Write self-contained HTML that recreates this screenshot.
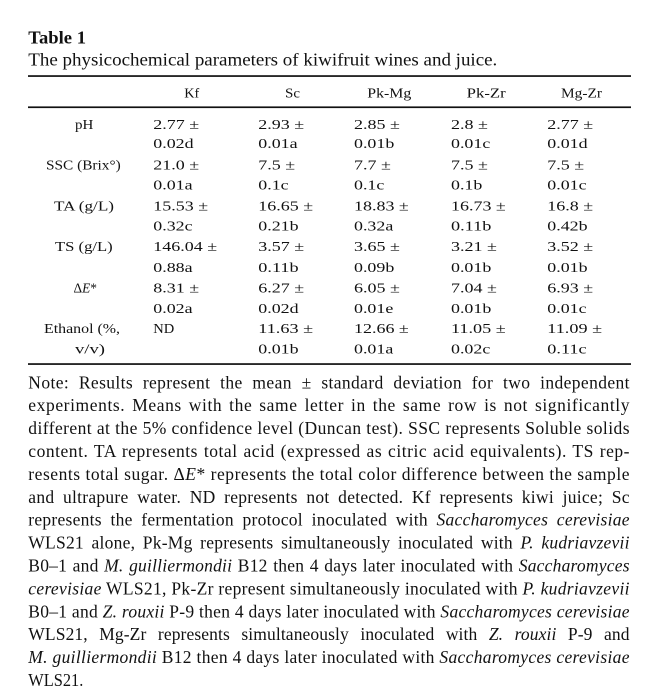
<!DOCTYPE html>
<html><head><meta charset="utf-8"><style>
html,body{margin:0;padding:0;background:#fff;}
svg{display:block;}
text{font-family:"Liberation Serif",serif;fill:#111;}
.t{font-size:13.5px;}
.n{font-size:17.5px;}
.i{font-style:italic;}
</style></head><body>
<svg width="670" height="698" viewBox="0 0 670 698" xmlns="http://www.w3.org/2000/svg">
<rect width="670" height="698" fill="#fff"/>
<text x="28.3" y="43.3" font-size="17.5" font-weight="bold" textLength="57.7" lengthAdjust="spacingAndGlyphs">Table 1</text>
<text class="n" x="28.3" y="65.7" textLength="469" lengthAdjust="spacingAndGlyphs">The physicochemical parameters of kiwifruit wines and juice.</text>
<rect x="28" y="75.2" width="603" height="1.7" fill="#111"/>
<rect x="28" y="106.4" width="603" height="1.7" fill="#111"/>
<rect x="28" y="363.2" width="603" height="1.7" fill="#111"/>
<!-- header -->
<g class="t">
<text x="184.3" y="97.3" textLength="15" lengthAdjust="spacingAndGlyphs">Kf</text>
<text x="285" y="97.3" textLength="15" lengthAdjust="spacingAndGlyphs">Sc</text>
<text x="367.3" y="97.3" textLength="44" lengthAdjust="spacingAndGlyphs">Pk-Mg</text>
<text x="466.7" y="97.3" textLength="39" lengthAdjust="spacingAndGlyphs">Pk-Zr</text>
<text x="561" y="97.3" textLength="41" lengthAdjust="spacingAndGlyphs">Mg-Zr</text>
<!-- labels -->
<text x="75" y="128.8" textLength="18.3" lengthAdjust="spacingAndGlyphs">pH</text>
<text x="46" y="169.3" textLength="74.7" lengthAdjust="spacingAndGlyphs">SSC (Brix°)</text>
<text x="54" y="210.3" textLength="60" lengthAdjust="spacingAndGlyphs">TA (g/L)</text>
<text x="55" y="251.2" textLength="57.7" lengthAdjust="spacingAndGlyphs">TS (g/L)</text>
<text x="73.5" y="292.3" font-size="14" textLength="23.5" lengthAdjust="spacingAndGlyphs">Δ<tspan class="i">E</tspan>*</text>
<text x="44" y="333" textLength="76" lengthAdjust="spacingAndGlyphs">Ethanol (%,</text>
<text x="75" y="353.3" textLength="30" lengthAdjust="spacingAndGlyphs">v/v)</text>
<!-- col 1 -->
<text x="153.3" y="128.8" textLength="45.9" lengthAdjust="spacingAndGlyphs">2.77 ±</text>
<text x="153.3" y="148" textLength="40.3" lengthAdjust="spacingAndGlyphs">0.02d</text>
<text x="153.3" y="169.3" textLength="45.9" lengthAdjust="spacingAndGlyphs">21.0 ±</text>
<text x="153.3" y="189.3" textLength="39.3" lengthAdjust="spacingAndGlyphs">0.01a</text>
<text x="153.3" y="210.3" textLength="54.8" lengthAdjust="spacingAndGlyphs">15.53 ±</text>
<text x="153.3" y="230.3" textLength="39.3" lengthAdjust="spacingAndGlyphs">0.32c</text>
<text x="153.3" y="251.2" textLength="63.8" lengthAdjust="spacingAndGlyphs">146.04 ±</text>
<text x="153.3" y="272" textLength="39.3" lengthAdjust="spacingAndGlyphs">0.88a</text>
<text x="153.3" y="292.3" textLength="45.9" lengthAdjust="spacingAndGlyphs">8.31 ±</text>
<text x="153.3" y="313" textLength="39.3" lengthAdjust="spacingAndGlyphs">0.02a</text>
<text x="153.3" y="333" textLength="21" lengthAdjust="spacingAndGlyphs">ND</text>
<!-- col 2 -->
<text x="258.3" y="128.8" textLength="45.9" lengthAdjust="spacingAndGlyphs">2.93 ±</text>
<text x="258.3" y="148" textLength="39.3" lengthAdjust="spacingAndGlyphs">0.01a</text>
<text x="258.3" y="169.3" textLength="36.9" lengthAdjust="spacingAndGlyphs">7.5 ±</text>
<text x="258.3" y="189.3" textLength="30.3" lengthAdjust="spacingAndGlyphs">0.1c</text>
<text x="258.3" y="210.3" textLength="54.8" lengthAdjust="spacingAndGlyphs">16.65 ±</text>
<text x="258.3" y="230.3" textLength="40.3" lengthAdjust="spacingAndGlyphs">0.21b</text>
<text x="258.3" y="251.2" textLength="45.9" lengthAdjust="spacingAndGlyphs">3.57 ±</text>
<text x="258.3" y="272" textLength="40.3" lengthAdjust="spacingAndGlyphs">0.11b</text>
<text x="258.3" y="292.3" textLength="45.9" lengthAdjust="spacingAndGlyphs">6.27 ±</text>
<text x="258.3" y="313" textLength="40.3" lengthAdjust="spacingAndGlyphs">0.02d</text>
<text x="258.3" y="333" textLength="54.8" lengthAdjust="spacingAndGlyphs">11.63 ±</text>
<text x="258.3" y="353.3" textLength="40.3" lengthAdjust="spacingAndGlyphs">0.01b</text>
<!-- col 3 -->
<text x="354" y="128.8" textLength="45.9" lengthAdjust="spacingAndGlyphs">2.85 ±</text>
<text x="354" y="148" textLength="40.3" lengthAdjust="spacingAndGlyphs">0.01b</text>
<text x="354" y="169.3" textLength="36.9" lengthAdjust="spacingAndGlyphs">7.7 ±</text>
<text x="354" y="189.3" textLength="30.3" lengthAdjust="spacingAndGlyphs">0.1c</text>
<text x="354" y="210.3" textLength="54.8" lengthAdjust="spacingAndGlyphs">18.83 ±</text>
<text x="354" y="230.3" textLength="39.3" lengthAdjust="spacingAndGlyphs">0.32a</text>
<text x="354" y="251.2" textLength="45.9" lengthAdjust="spacingAndGlyphs">3.65 ±</text>
<text x="354" y="272" textLength="40.3" lengthAdjust="spacingAndGlyphs">0.09b</text>
<text x="354" y="292.3" textLength="45.9" lengthAdjust="spacingAndGlyphs">6.05 ±</text>
<text x="354" y="313" textLength="39.3" lengthAdjust="spacingAndGlyphs">0.01e</text>
<text x="354" y="333" textLength="54.8" lengthAdjust="spacingAndGlyphs">12.66 ±</text>
<text x="354" y="353.3" textLength="39.3" lengthAdjust="spacingAndGlyphs">0.01a</text>
<!-- col 4 -->
<text x="451" y="128.8" textLength="36.9" lengthAdjust="spacingAndGlyphs">2.8 ±</text>
<text x="451" y="148" textLength="39.3" lengthAdjust="spacingAndGlyphs">0.01c</text>
<text x="451" y="169.3" textLength="36.9" lengthAdjust="spacingAndGlyphs">7.5 ±</text>
<text x="451" y="189.3" textLength="31.3" lengthAdjust="spacingAndGlyphs">0.1b</text>
<text x="451" y="210.3" textLength="54.8" lengthAdjust="spacingAndGlyphs">16.73 ±</text>
<text x="451" y="230.3" textLength="40.3" lengthAdjust="spacingAndGlyphs">0.11b</text>
<text x="451" y="251.2" textLength="45.9" lengthAdjust="spacingAndGlyphs">3.21 ±</text>
<text x="451" y="272" textLength="40.3" lengthAdjust="spacingAndGlyphs">0.01b</text>
<text x="451" y="292.3" textLength="45.9" lengthAdjust="spacingAndGlyphs">7.04 ±</text>
<text x="451" y="313" textLength="40.3" lengthAdjust="spacingAndGlyphs">0.01b</text>
<text x="451" y="333" textLength="54.8" lengthAdjust="spacingAndGlyphs">11.05 ±</text>
<text x="451" y="353.3" textLength="39.3" lengthAdjust="spacingAndGlyphs">0.02c</text>
<!-- col 5 -->
<text x="547.3" y="128.8" textLength="45.9" lengthAdjust="spacingAndGlyphs">2.77 ±</text>
<text x="547.3" y="148" textLength="40.3" lengthAdjust="spacingAndGlyphs">0.01d</text>
<text x="547.3" y="169.3" textLength="36.9" lengthAdjust="spacingAndGlyphs">7.5 ±</text>
<text x="547.3" y="189.3" textLength="39.3" lengthAdjust="spacingAndGlyphs">0.01c</text>
<text x="547.3" y="210.3" textLength="45.9" lengthAdjust="spacingAndGlyphs">16.8 ±</text>
<text x="547.3" y="230.3" textLength="40.3" lengthAdjust="spacingAndGlyphs">0.42b</text>
<text x="547.3" y="251.2" textLength="45.9" lengthAdjust="spacingAndGlyphs">3.52 ±</text>
<text x="547.3" y="272" textLength="40.3" lengthAdjust="spacingAndGlyphs">0.01b</text>
<text x="547.3" y="292.3" textLength="45.9" lengthAdjust="spacingAndGlyphs">6.93 ±</text>
<text x="547.3" y="313" textLength="39.3" lengthAdjust="spacingAndGlyphs">0.01c</text>
<text x="547.3" y="333" textLength="54.8" lengthAdjust="spacingAndGlyphs">11.09 ±</text>
<text x="547.3" y="353.3" textLength="39.3" lengthAdjust="spacingAndGlyphs">0.11c</text>
</g>
<!-- note -->
<g class="n">
<text x="28.3" y="388.3" word-spacing="5" textLength="601.2" lengthAdjust="spacing">Note: Results represent the mean ± standard deviation for two independent</text>
<text x="28.3" y="411.2" word-spacing="2" textLength="601.2" lengthAdjust="spacing">experiments. Means with the same letter in the same row is not significantly</text>
<text x="28.3" y="434.1" textLength="601.2" lengthAdjust="spacing">different at the 5% confidence level (Duncan test). SSC represents Soluble solids</text>
<text x="28.3" y="457" word-spacing="1" textLength="601.2" lengthAdjust="spacing">content. TA represents total acid (expressed as citric acid equivalents). TS rep-</text>
<text x="28.3" y="479.9" textLength="601.2" lengthAdjust="spacing">resents total sugar. Δ<tspan class="i">E</tspan>* represents the total color difference between the sample</text>
<text x="28.3" y="502.8" word-spacing="4" textLength="601.2" lengthAdjust="spacing">and ultrapure water. ND represents not detected. Kf represents kiwi juice; Sc</text>
<text x="28.3" y="525.7" word-spacing="4" textLength="601.2" lengthAdjust="spacing">represents the fermentation protocol inoculated with <tspan class="i">Saccharomyces cerevisiae</tspan></text>
<text x="28.3" y="548.6" word-spacing="3" textLength="601.2" lengthAdjust="spacing">WLS21 alone, Pk-Mg represents simultaneously inoculated with <tspan class="i">P. kudriavzevii</tspan></text>
<text x="28.3" y="571.5" word-spacing="1" textLength="601.2" lengthAdjust="spacing">B0–1 and <tspan class="i">M. guilliermondii</tspan> B12 then 4 days later inoculated with <tspan class="i">Saccharomyces</tspan></text>
<text x="28.3" y="594.4" textLength="601.2" lengthAdjust="spacing"><tspan class="i">cerevisiae</tspan> WLS21, Pk-Zr represent simultaneously inoculated with <tspan class="i">P. kudriavzevii</tspan></text>
<text x="28.3" y="617.3" textLength="601.2" lengthAdjust="spacing">B0–1 and <tspan class="i">Z. rouxii</tspan> P-9 then 4 days later inoculated with <tspan class="i">Saccharomyces cerevisiae</tspan></text>
<text x="28.3" y="640.2" word-spacing="7" textLength="601.2" lengthAdjust="spacing">WLS21, Mg-Zr represents simultaneously inoculated with <tspan class="i">Z. rouxii</tspan> P-9 and</text>
<text x="28.3" y="663.1" textLength="601.2" lengthAdjust="spacing"><tspan class="i">M. guilliermondii</tspan> B12 then 4 days later inoculated with <tspan class="i">Saccharomyces cerevisiae</tspan></text>
<text x="28.3" y="686" textLength="55" lengthAdjust="spacingAndGlyphs">WLS21.</text>
</g>
</svg>
</body></html>
